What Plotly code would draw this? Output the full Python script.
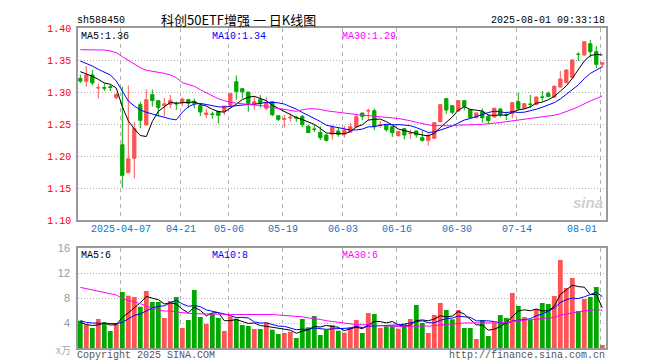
import plotly.graph_objects as go

# ---------------- data ----------------
opens = [1.321, 1.3167, 1.3266, 1.3063, 1.307, 1.3083, 1.291, 1.2177, 1.174, 1.1964,
         1.2802, 1.2484, 1.2958, 1.2865, 1.279, 1.2807, 1.2823, 1.2839, 1.288, 1.2854,
         1.2792, 1.2646, 1.2656, 1.2698, 1.2698, 1.2792, 1.3161, 1.3052, 1.30, 1.2802,
         1.288, 1.2745, 1.2849, 1.263, 1.2573, 1.2594, 1.2604, 1.262, 1.2464, 1.2422,
         1.237, 1.2328, 1.2339, 1.2391, 1.2339, 1.2375, 1.2453, 1.2672, 1.2703, 1.2708,
         1.2479, 1.2484, 1.2458, 1.2318, 1.2427, 1.2349, 1.2391, 1.2286, 1.2245, 1.2276,
         1.2536, 1.2896, 1.2786, 1.2703, 1.2865, 1.2724, 1.2599, 1.2693, 1.262, 1.2609,
         1.2734, 1.2646, 1.2661, 1.2849, 1.2745, 1.2812, 1.2807, 1.2922, 1.2979, 1.2922,
         1.3078, 1.3146, 1.3224, 1.359, 1.3578, 1.3755, 1.363, 1.3432]
highs = [1.327, 1.3406, 1.3344, 1.313, 1.3135, 1.312, 1.299, 1.3083, 1.3104, 1.2531,
         1.2844, 1.3042, 1.3042, 1.2865, 1.2911, 1.2953, 1.285, 1.2911, 1.2896, 1.2896,
         1.2823, 1.274, 1.2693, 1.2698, 1.2781, 1.2974, 1.326, 1.3052, 1.30, 1.2932,
         1.2958, 1.2922, 1.2849, 1.263, 1.2641, 1.2661, 1.2625, 1.2641, 1.249, 1.2484,
         1.2464, 1.2339, 1.2479, 1.2453, 1.2474, 1.2521, 1.2641, 1.2672, 1.274, 1.2745,
         1.2547, 1.2495, 1.2469, 1.2391, 1.2437, 1.2411, 1.2401, 1.2391, 1.236, 1.2531,
         1.2812, 1.2896, 1.2786, 1.2875, 1.2875, 1.2734, 1.2682, 1.2745, 1.2651, 1.2755,
         1.2745, 1.2693, 1.2844, 1.299, 1.2828, 1.2953, 1.2932, 1.3016, 1.3005, 1.3104,
         1.3328, 1.3354, 1.351, 1.362, 1.3797, 1.3813, 1.3719, 1.3458]
lows = [1.314, 1.3083, 1.3104, 1.290, 1.3015, 1.3015, 1.2885, 1.15, 1.173, 1.165,
        1.2432, 1.2479, 1.2771, 1.2615, 1.2625, 1.2745, 1.2719, 1.2771, 1.2745, 1.2745,
        1.2625, 1.259, 1.2583, 1.2505, 1.264, 1.2781, 1.288, 1.290, 1.2693, 1.2724,
        1.2755, 1.2714, 1.262, 1.2547, 1.2443, 1.2536, 1.2536, 1.2453, 1.236, 1.2375,
        1.225, 1.2224, 1.2255, 1.2302, 1.2286, 1.2365, 1.2443, 1.2557, 1.2557, 1.2401,
        1.2443, 1.238, 1.2297, 1.2307, 1.2261, 1.227, 1.2286, 1.2224, 1.2161, 1.2266,
        1.2526, 1.2661, 1.2651, 1.2693, 1.2714, 1.2589, 1.2589, 1.2521, 1.2505, 1.2599,
        1.2609, 1.2563, 1.2589, 1.2714, 1.2729, 1.2745, 1.2792, 1.2859, 1.2922, 1.2911,
        1.3068, 1.3135, 1.3214, 1.3484, 1.3568, 1.3536, 1.337, 1.338]
closes = [1.317, 1.3266, 1.3141, 1.3068, 1.306, 1.307, 1.296, 1.1698, 1.1958, 1.2427,
          1.2557, 1.288, 1.2865, 1.276, 1.2815, 1.287, 1.2815, 1.289, 1.2823, 1.2823,
          1.2688, 1.2672, 1.2651, 1.2635, 1.2781, 1.2974, 1.301, 1.3005, 1.2823, 1.2849,
          1.2818, 1.2828, 1.2646, 1.2573, 1.2583, 1.2604, 1.2594, 1.249, 1.2365, 1.2417,
          1.2287, 1.2245, 1.2453, 1.2339, 1.2406, 1.2458, 1.2615, 1.262, 1.2708, 1.2458,
          1.2484, 1.2412, 1.2365, 1.2385, 1.2328, 1.2354, 1.2328, 1.2245, 1.2323, 1.2521,
          1.2802, 1.2719, 1.2682, 1.2865, 1.2776, 1.2599, 1.2672, 1.2599, 1.2552, 1.2745,
          1.2641, 1.2641, 1.2833, 1.2745, 1.2818, 1.2807, 1.2922, 1.2917, 1.2927, 1.3089,
          1.3203, 1.3344, 1.35, 1.3588, 1.3786, 1.363, 1.3432, 1.3458]
volumes = [4.37, 3.73, 3.2, 4.64, 4.1, 2.72, 4.0, 8.96, 8.37, 8.16,
           6.61, 9.12, 7.36, 7.36, 4.8, 7.52, 8.16, 3.2, 4.48, 9.28,
           4.96, 3.84, 5.49, 4.8, 2.72, 5.07, 4.69, 3.68, 3.52, 3.04,
           3.04, 4.1, 2.93, 2.24, 2.4, 2.61, 1.6, 4.64, 3.31, 5.12,
           2.08, 2.93, 3.68, 2.77, 2.45, 3.31, 4.48, 2.4, 5.6, 5.44,
           3.2, 3.47, 3.47, 3.09, 3.84, 4.64, 6.88, 4.0, 2.4, 5.28,
           7.2, 6.08, 4.59, 6.08, 3.2, 3.2, 1.44, 4.48, 1.92, 4.0,
           5.28, 4.8, 8.8, 6.72, 4.96, 4.48, 6.24, 7.2, 7.04, 8.32,
           14.08, 9.6, 11.2, 5.92, 7.84, 8.16, 9.76, 0.48]

# moving-average values before enough history exists
ma5_head = [1.3318, 1.3286, 1.3245, 1.3198]
ma10_head = [1.3484, 1.3448, 1.3406, 1.3354, 1.3313, 1.3266, 1.3172, 1.3016, 1.2859]
ma30_head = [1.3661, 1.3661, 1.3661, 1.3656, 1.3656, 1.364, 1.3615, 1.3552, 1.3495, 1.3443,
             1.338, 1.3339, 1.3323, 1.3313, 1.3292, 1.3266, 1.3224, 1.3146, 1.312, 1.3089,
             1.3035, 1.299, 1.294, 1.2895, 1.2865, 1.2838, 1.2825, 1.2818, 1.281]
vma5_head = [4.1, 3.75, 3.6, 3.7]
vma10_head = [4.37, 4.1, 4.0, 4.0, 3.95, 3.9, 3.9, 4.1, 4.64]
vma30_head = [9.7, 9.5, 9.33, 9.17, 8.96, 8.75, 8.48, 7.9, 7.57, 7.36,
              7.09, 6.67, 6.35, 6.08, 5.92, 5.9, 5.76, 5.6, 5.55, 5.49,
              5.49, 5.44, 5.4, 5.4, 5.38, 5.38, 5.36, 5.36, 5.36]

tick_index = [7, 17, 25, 34, 44, 53, 63, 73, 87]
tick_labels = ["2025-04-07", "04-21", "05-06", "05-19", "06-03", "06-16", "06-30", "07-14", "08-01"]
price_ticks = [1.10, 1.15, 1.20, 1.25, 1.30, 1.35, 1.40]
volume_ticks = [4, 8, 12, 16]

# ---------------- helpers ----------------
def moving_avg(vals, n, head):
    out = list(head)
    for i in range(len(head), len(vals)):
        out.append(sum(vals[i - n + 1:i + 1]) / n)
    return out

N = len(closes)
idx = list(range(N))
RED = "#ff5454"
GREEN = "#00a800"
MONO = "Liberation Mono, DejaVu Sans Mono, monospace"

ma5 = moving_avg(closes, 5, ma5_head)
ma10 = moving_avg(closes, 10, ma10_head)
ma30 = moving_avg(closes, 30, ma30_head)
vma5 = moving_avg(volumes, 5, vma5_head)
vma10 = moving_avg(volumes, 10, vma10_head)
vma30 = moving_avg(volumes, 30, vma30_head)

W, H = 660, 360
ML, MR, MT, MB = 70, 62, 20, 20
PW, PH = W - ML - MR, H - MT - MB


def px(x):
    return (x - ML) / PW


def py(y):
    return (H - MB - y) / PH


fig = go.Figure()
fig.add_trace(go.Candlestick(
    x=idx, open=opens, high=highs, low=lows, close=closes,
    increasing=dict(line=dict(color=RED, width=1), fillcolor=RED),
    decreasing=dict(line=dict(color=GREEN, width=1), fillcolor=GREEN),
    whiskerwidth=0, xaxis="x", yaxis="y", hoverinfo="skip", showlegend=False))
for vals, col in ((ma5, "#000000"), (ma10, "#0000ff"), (ma30, "#ff00ff")):
    fig.add_trace(go.Scatter(x=idx, y=vals, mode="lines", line=dict(color=col, width=1),
                             xaxis="x", yaxis="y", hoverinfo="skip", showlegend=False))

bar_colors = [RED if c >= o else GREEN for o, c in zip(opens, closes)]
fig.add_trace(go.Bar(x=idx, y=volumes, marker=dict(color=bar_colors, line=dict(width=0)),
                     width=0.8, xaxis="x2", yaxis="y2", hoverinfo="skip", showlegend=False))
for vals, col in ((vma5, "#000000"), (vma10, "#0000ff"), (vma30, "#ff00ff")):
    fig.add_trace(go.Scatter(x=idx, y=vals, mode="lines", line=dict(color=col, width=1),
                             xaxis="x2", yaxis="y2", hoverinfo="skip", showlegend=False))

xr = [-0.383, N - 0.383]
grid_x = [k - 0.27 for k in tick_index]
common_x = dict(range=xr, tickvals=grid_x, showticklabels=False, showgrid=True,
                gridcolor="#b0b0b0", griddash="4px,4px", gridwidth=1, showline=True,
                mirror=True, linecolor="#9a9a9a", linewidth=1.5, zeroline=False, ticks="",
                fixedrange=True)

fig.update_layout(
    width=W, height=H, margin=dict(l=ML, r=MR, t=MT, b=MB),
    paper_bgcolor="white", plot_bgcolor="white", boxgap=0.22,
    xaxis=dict(domain=[0, 1], anchor="y", rangeslider=dict(visible=False), **common_x),
    xaxis2=dict(domain=[0, 1], anchor="y2", matches="x", **common_x),
    yaxis=dict(domain=[0.4, 1.0], range=[1.10, 1.40], tickvals=price_ticks,
               ticktext=[f"{v:.2f}" for v in price_ticks],
               tickfont=dict(family=MONO, size=10, color="#ff0000"),
               showgrid=True, gridcolor="#b0b0b0", griddash="1px,2px", showline=True,
               mirror=True, linecolor="#9a9a9a", linewidth=1.5, zeroline=False, ticks="",
               ticklabelstandoff=3),
    yaxis2=dict(domain=[0, 0.3125], range=[0, 16], tickvals=volume_ticks,
                ticktext=[str(v) for v in volume_ticks],
                tickfont=dict(family="Liberation Sans, Arial", size=11, color="#999999"),
                showgrid=True, gridcolor="#b0b0b0", griddash="1px,2px", showline=True,
                mirror=True, linecolor="#9a9a9a", linewidth=1.5, zeroline=False, ticks="",
                ticklabelstandoff=4),
)

ann = []


def text(x, y, s, color="#000000", size=10, family=MONO, xanchor="left"):
    ann.append(dict(x=px(x), y=py(y), xref="paper", yref="paper", text=s, showarrow=False,
                    xanchor=xanchor, yanchor="middle", borderpad=0,
                    font=dict(family=family, size=size, color=color)))


text(68, 12, "sh588450")
text(230, 11, "科创50ETF增强 一 日K线图", size=13,
     family="Noto Sans CJK SC, sans-serif", xanchor="center")
text(598, 12, "2025-08-01 09:33:18", xanchor="right")
text(72, 28, f"MA5:{ma5[-1]:.2f}")
text(203, 28, f"MA10:{ma10[-1]:.2f}", color="#0000ff")
text(333, 28, f"MA30:{ma30[-1]:.2f}", color="#ff00ff")
text(72, 247, f"MA5:{vma5[-1]:.0f}")
text(203, 247, f"MA10:{vma10[-1]:.0f}", color="#0000ff")
text(333, 247, f"MA30:{vma30[-1]:.0f}", color="#ff00ff")
text(68, 347, "Copyright 2025 SINA.COM", color="#555555")
text(598, 347, "http://finance.sina.com.cn", color="#555555", xanchor="right")
text(47, 341, "x万", color="#aaaaaa", size=10, family="Noto Sans CJK SC, sans-serif")
ann.append(dict(x=px(597), y=py(194), xref="paper", yref="paper", text="<b><i>sina</i></b>",
                showarrow=False, xanchor="right", yanchor="middle",
                font=dict(family="Liberation Sans, Arial", size=15, color="#cfcfcf")))

for k, lab in zip(tick_index, tick_labels):
    last = lab == tick_labels[-1]
    ann.append(dict(x=k - 0.27, y=py(221), xref="x", yref="paper", text=lab, showarrow=False,
                    xanchor="right" if last else "center", xshift=-2 if last else 0,
                    yanchor="middle", font=dict(family=MONO, size=10, color="#0a78c8")))

fig.update_layout(annotations=ann)
fig.write_html("out.html")
